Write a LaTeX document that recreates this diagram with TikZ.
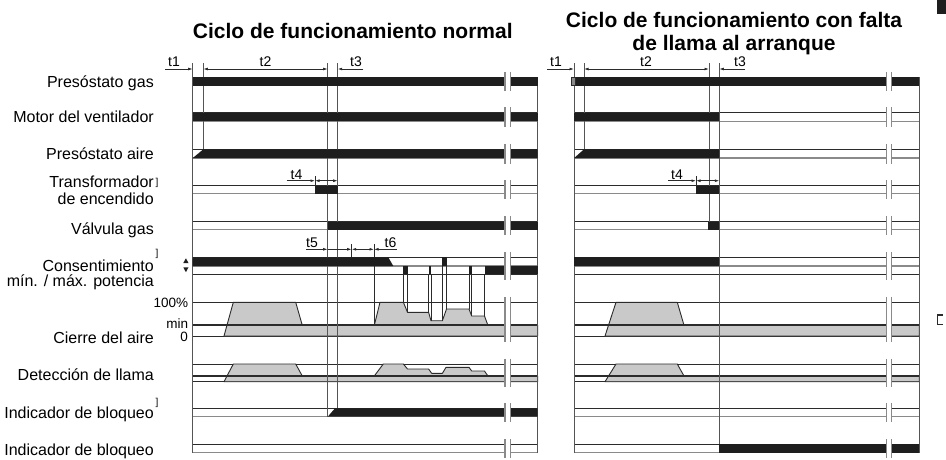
\documentclass[tikz,border=0pt]{standalone}
\usepackage{fontspec}
\setmainfont{Liberation Sans}
\usetikzlibrary{arrows.meta}
\definecolor{barblack}{HTML}{1E1E1E}
\definecolor{darkline}{HTML}{2B2B2B}
\definecolor{grayline}{HTML}{8A8A8A}
\definecolor{grayfill}{HTML}{C9C9C9}
\definecolor{vline}{HTML}{555555}
\tikzset{
  >={Latex[length=4.5pt,width=2.8pt]},
  dk/.style={draw=darkline, line width=0.9pt},
  gy/.style={draw=grayline, line width=1.5pt},
  thickdk/.style={draw=darkline, line width=1.7pt},
  bar/.style={fill=barblack},
  shade/.style={fill=grayfill, draw=darkline, line width=0.9pt, line join=round},
  guide/.style={draw=darkline, line width=0.8pt},
  vl/.style={draw=vline, line width=1pt},
  dim/.style={draw=darkline, line width=0.7pt},
  brk/.style={draw=grayline, line width=1.4pt},
  lbl/.style={anchor=base east, inner sep=0pt, font=\fontsize{16}{18}\selectfont},
  slbl/.style={anchor=base east, inner sep=0pt, font=\fontsize{13.5}{15}\selectfont},
  brl/.style={anchor=base west, inner sep=0pt, font=\fontsize{10}{10}\selectfont},
  tlbl/.style={anchor=base, inner sep=0pt, font=\fontsize{14}{15}\selectfont},
  ttl/.style={anchor=base, inner sep=0pt, font=\fontsize{21}{24}\selectfont\bfseries},
}
\begin{document}
\begin{tikzpicture}[x=1pt,y=-1pt]
\useasboundingbox (0,0) rectangle (946,459);

% ---------------- titles
\node[ttl] (titL) at (352.8,38.3) {Ciclo de funcionamiento normal};
\node[ttl] (titR1) at (734,27) {Ciclo de funcionamiento con falta};
\node[ttl] (titR2) at (734,50.5) {de llama al arranque};

% ---------------- row labels
\node[lbl] (lab1) at (154,87.3) {Presóstato gas};
\node[lbl] (lab2) at (154,122.3) {Motor del ventilador};
\node[lbl] (lab3) at (154,159) {Presóstato aire};
\node[lbl] (lab4a) at (154,187.3) {Transformador};
\node[brl] (br4) at (155.5,185) {]};
\node[lbl] (lab4b) at (154,204) {de encendido};
\node[lbl] (lab5) at (154,234.5) {Válvula gas};
\node[lbl] (lab6a) at (154,271.7) {Consentimiento};
\node[brl] (br6) at (155.5,256.5) {]};
\node[lbl] (lab6b) at (154,286.7) {mín. / máx. potencia};
\node[slbl] (p100) at (188.3,307.8) {100\%};
\node[slbl] (pmin) at (188.3,328.3) {min};
\node[slbl] (p0) at (188,341.3) {0};
\node[lbl] (lab7) at (154,343.3) {Cierre del aire};
\node[lbl] (lab8) at (154,380) {Detección de llama};
\node[lbl] (lab9) at (154,418.3) {Indicador de bloqueo};
\node[brl] (br9) at (155.5,405.5) {]};
\node[lbl] (lab10) at (154,455) {Indicador de bloqueo};
% up / down marks
\fill[barblack] (183.3,263) -- (185.9,258.3) -- (188.5,263) -- cycle;
\fill[barblack] (183.3,267.3) -- (185.9,272.2) -- (188.5,267.3) -- cycle;

% ---------------- base lines of the rows
\foreach \L/\R in {192.7/537.7, 574/919.3}{
  \foreach \a/\b in {77.3/85.7,112.9/121.3,149.3/158.1,185.5/193.5,221.7/229.7,408.3/416.7,444.3/452.7}{
    \draw[dk] (\L,\a) -- (\R,\a);
    \draw[gy] (\L,\b) -- (\R,\b);
  }
  \draw[dk] (\L,257.3) -- (\R,257.3);
  \draw[gy] (\L,266) -- (\R,266);
  \draw[dk] (\L,274.3) -- (\R,274.3);
  \draw[dk] (\L,302.3) -- (\R,302.3);
  \draw[dk] (\L,336) -- (\R,336);
  \draw[dk] (\L,364) -- (\R,364);
  \draw[dk] (\L,381.7) -- (\R,381.7);
}

% ---------------- grey curves (left)
\filldraw[shade] (224,336) -- (233.3,302.3) -- (295.7,302.3) -- (302.3,325.3) -- (374.3,325.3)
  -- (380,302.3) -- (403.4,302.3) -- (407.5,312.3) -- (428.6,312.3) -- (431,320.7) -- (442.4,320.7)
  -- (446.5,309) -- (469,309) -- (471.7,316) -- (484.5,316) -- (487.9,325.3) -- (537.7,325.3)
  -- (537.7,336) -- cycle;
\filldraw[shade] (224,381.7) -- (233.3,364) -- (295.7,364) -- (302.3,376) -- (374.3,376)
  -- (383.3,364) -- (403.4,364) -- (407.5,369) -- (428.6,369) -- (431.7,373.3) -- (442.4,373.3)
  -- (446,367.3) -- (469,367.3) -- (471.7,371) -- (484.5,371) -- (487.9,376) -- (537.7,376)
  -- (537.7,381.7) -- cycle;
% grey curves (right)
\filldraw[shade] (605,336) -- (616,302.3) -- (677.3,302.3) -- (684,325.3) -- (919.3,325.3) -- (919.3,336) -- cycle;
\filldraw[shade] (605,381.7) -- (616,364) -- (677.3,364) -- (684,376) -- (919.3,376) -- (919.3,381.7) -- cycle;
\foreach \L/\R in {192.7/537.7, 574/919.3}{
  \draw[thickdk] (\L,325.3) -- (\R,325.3);
  \draw[thickdk] (\L,376) -- (\R,376);
}

% ---------------- vertical time lines
\draw[vl] (192.7,63) -- (192.7,452.7);
\draw[vl] (203.3,63) -- (203.3,149.3);
\draw[vl] (327.7,63) -- (327.7,416.7);
\draw[vl] (337.7,63) -- (337.7,408.3);
\draw[vl] (537.7,77.3) -- (537.7,452.7);
\draw[vl] (574,63) -- (574,452.7);
\draw[vl] (584,63) -- (584,149.3);
\draw[vl] (709,63) -- (709,221.7);
\draw[vl] (719.3,63) -- (719.3,444.3);
\draw[vl] (919.3,77.3) -- (919.3,452.7);

% guides consent -> air damper
\draw[guide] (374,244) -- (374,325.3);
\draw[guide] (351.7,244) -- (351.7,257.3);
\draw[guide] (403.4,274.3) -- (403.4,302.3);
\draw[guide] (407.5,274.3) -- (407.5,312.3);
\draw[guide] (428.6,274.3) -- (428.6,312.3);
\draw[guide] (431,274.3) -- (431,320.7);
\draw[guide] (442.4,266) -- (442.4,320.7);
\draw[guide] (446.5,266) -- (446.5,309);
\draw[guide] (469,274.3) -- (469,309);
\draw[guide] (471.7,274.3) -- (471.7,316);
\draw[guide] (484.5,274.3) -- (484.5,316);
\draw[guide] (315,176) -- (315,185.5);
\draw[guide] (696,176) -- (696,185.5);

% ---------------- black bars (left)
\fill[bar] (192.7,77.3) rectangle (537.7,85.7);
\fill[bar] (192.7,112.9) rectangle (537.7,121.3);
\fill[bar] (192.7,158.1) -- (203.3,149.3) -- (537.7,149.3) -- (537.7,158.1) -- cycle;
\fill[bar] (315,185.5) rectangle (337.7,193.5);
\fill[bar] (327.7,221.7) rectangle (537.7,229.7);
\fill[bar] (192.7,257.3) -- (388.3,257.3) -- (393.3,266) -- (192.7,266) -- cycle;
\fill[bar] (403.4,266) rectangle (407.5,274.3);
\fill[bar] (428.6,266) rectangle (431,274.3);
\fill[bar] (442.4,257.3) rectangle (446.5,266);
\fill[bar] (469,266) rectangle (471.7,274.3);
\fill[bar] (484.5,266) rectangle (537.7,274.3);
\fill[bar] (327.7,416.7) -- (335,408.3) -- (537.7,408.3) -- (537.7,416.7) -- cycle;
% black bars (right)
\fill[bar] (574,77.3) rectangle (919.3,85.7);
\filldraw[fill=grayline, draw=darkline, line width=0.7pt] (571.7,77.8) rectangle (575.5,85.2);
\fill[bar] (574,112.9) rectangle (719.3,121.3);
\fill[bar] (574,158.1) -- (584,149.3) -- (719.3,149.3) -- (719.3,158.1) -- cycle;
\fill[bar] (696,185.5) rectangle (719.3,193.5);
\fill[bar] (708.3,221.7) rectangle (719.3,229.7);
\fill[bar] (574,257.3) rectangle (719.3,266);
\fill[bar] (719.3,444.3) rectangle (919.3,452.7);

% ---------------- break marks
\foreach \BA/\BB in {505/510.7, 886.7/891.7}{
  \foreach \a/\b in {77.3/85.7,112.9/121.3,149.3/158.1,185.5/193.5,221.7/229.7,257.3/274.3,302.3/336,364/381.7,408.3/416.7,444.3/452.7}{
    \fill[white] (\BA,{\a-5.5}) rectangle (\BB,{\b+5.5});
    \draw[brk] (\BA,{\a-5.5}) -- (\BA,{\b+5.5});
    \draw[brk] (\BB,{\a-5.5}) -- (\BB,{\b+5.5});
  }
}

% ---------------- time dimensions (left)
\draw[dim,->] (165,69) -- (192.7,69);
\draw[dim,<->] (203.3,69) -- (327.7,69);
\draw[dim,->] (363.3,69) -- (337.7,69);
\node[tlbl] (t1L) at (174,66.5) {t1};
\node[tlbl] (t2L) at (265.5,66.5) {t2};
\node[tlbl] (t3L) at (356,66.5) {t3};
\draw[dim,->] (286.7,180.7) -- (315,180.7);
\draw[dim,<->] (315,180.7) -- (337.7,180.7);
\node[tlbl] (t4L) at (296.5,179) {t4};
\draw[dim,->] (306,249.3) -- (327.7,249.3);
\draw[dim,->] (327.7,249.3) -- (351.7,249.3);
\draw[dim,<->] (351.7,249.3) -- (374,249.3);
\draw[dim,->] (396.7,249.3) -- (374,249.3);
\node[tlbl] (t5L) at (312,247) {t5};
\node[tlbl] (t6L) at (390.5,247.5) {t6};
% time dimensions (right)
\draw[dim,->] (547.3,69) -- (574,69);
\draw[dim,<->] (584,69) -- (709,69);
\draw[dim,->] (745,69) -- (719.3,69);
\node[tlbl] (t1R) at (556,66.5) {t1};
\node[tlbl] (t2R) at (646,66.5) {t2};
\node[tlbl] (t3R) at (740,66.5) {t3};
\draw[dim,->] (668.3,180.7) -- (696,180.7);
\draw[dim,<->] (696,180.7) -- (719.3,180.7);
\node[tlbl] (t4R) at (677,179) {t4};

% ---------------- marks at the right margin
\fill[barblack] (937,0) rectangle (946,14);
\draw[draw=darkline, line width=1.2pt] (942.7,315) -- (937.3,315) -- (937.3,324.3) -- (942.7,324.3);
\end{tikzpicture}
\end{document}
